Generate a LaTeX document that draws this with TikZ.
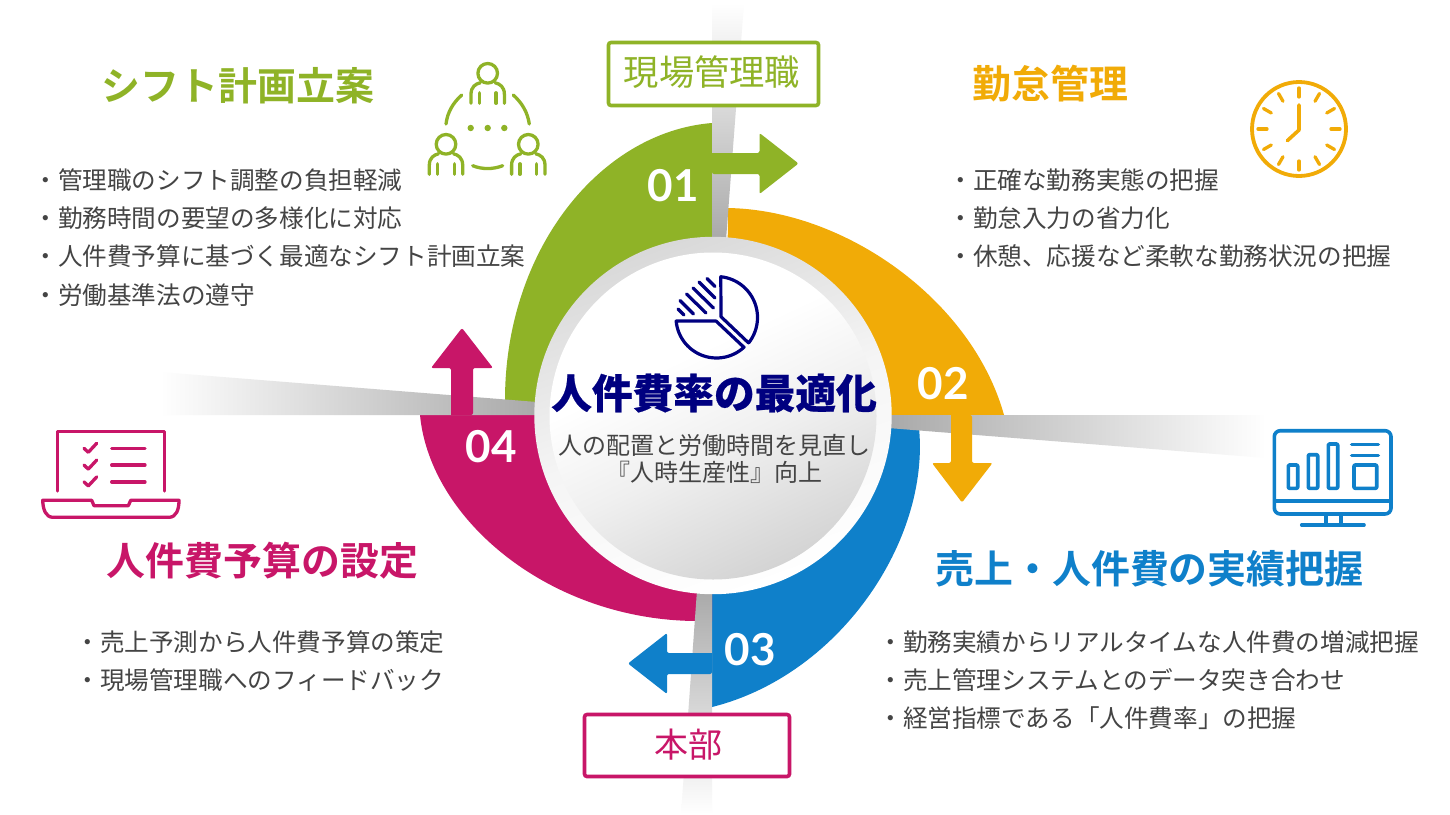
\documentclass[tikz,border=0pt]{standalone}
\usepackage{fontspec}
\setmainfont[BoldFont={Noto Sans CJK JP Bold}]{Noto Sans CJK JP}
\newfontfamily\titlefont[BoldFeatures={FakeBold=0.5}]{Noto Sans CJK JP}
\newfontfamily\numfont{Lato}
\definecolor{cgreen}{HTML}{8FB327}
\definecolor{corange}{HTML}{F1AB07}
\definecolor{cblue}{HTML}{0F80CA}
\definecolor{cmag}{HTML}{C81668}
\definecolor{cnavy}{HTML}{000080}
\definecolor{ctext}{HTML}{444444}
\definecolor{cband}{HTML}{A9A9A9}
\newcommand{\fs}[1]{\fontsize{#1}{#1}\selectfont}
\pgfdeclareverticalshading{discshade}{100bp}{color(0bp)=(black!17); color(25bp)=(black!17); color(45bp)=(black!6); color(60bp)=(white); color(100bp)=(white)}
\pgfdeclareverticalshading{ringshade}{100bp}{color(0bp)=(white); color(25bp)=(white); color(50bp)=(black!4); color(75bp)=(black!15); color(100bp)=(black!15)}
\tikzset{
  txt/.style={inner sep=0pt,font=\fs{#1},text height=0.88*#1 pt,text depth=0.12*#1 pt},
  body/.style={txt=24.6,anchor=west,text=ctext},
  heading/.style={txt=38.9},
  num/.style={inner sep=0pt,text=white,font=\numfont\fs{44}\bfseries},
  tag/.style={draw=#1,fill=white,line width=3.6pt,rounded corners=2.5pt,inner sep=0pt,anchor=center},
  icon/.style={draw=#1,line width=3.3pt,line cap=round,line join=round,fill=none},
  arrowhead/.style={fill=#1,rounded corners=2pt},
}
\newcommand{\personicon}[3]{%
  \begin{scope}[shift={(#1,#2)}]
    \draw[icon=#3] (0,0) circle (9.8);
    \draw[icon=#3] (-16.7,30) -- (-16.7,21) .. controls (-16.7,13.5) and (-12,10.5) .. (-7.5,9.5);
    \draw[icon=#3] (16.7,30) -- (16.7,21) .. controls (16.7,13.5) and (12,10.5) .. (7.5,9.5);
    \draw[icon=#3] (-8.4,19.5) -- (-8.4,30);
    \draw[icon=#3] (8.4,19.5) -- (8.4,30);
  \end{scope}}
\begin{document}
\begin{tikzpicture}[x=1pt,y=-1pt]
\useasboundingbox (0,0) rectangle (1450,814);
\fill[white] (0,0) rectangle (1450,814);
% sectors
\fill[cgreen] (712,123) .. controls (600,132) and (505,250) .. (505,400) -- (505,415) -- (712,415) -- cycle;
\fill[corange] (728,208) .. controls (845,210) and (972,300) .. (1004,415) -- (726,415) -- cycle;
\fill[cblue] (919,428) .. controls (930,540) and (840,675) .. (712,707) -- (712,415) -- (890,415) -- cycle;
\fill[cmag] (420,415) .. controls (430,520) and (550,620) .. (696,621) -- (712,621) -- (712,415) -- cycle;
% bands
\shade[top color=white,bottom color=cband] (712,3) -- (744,3) -- (726,240) -- (712,240) -- cycle;
\shade[top color=cband,bottom color=white] (697,590) -- (712,590) -- (712,814) -- (681,814) -- cycle;
\shade[left color=white,right color=cband] (160,372) -- (537,402) -- (537,415) -- (160,415) -- cycle;
\shade[left color=cband,right color=white] (888,415) -- (1266,415) -- (1266,458) -- (888,428) -- cycle;
% arrows
\fill[arrowhead=cgreen] (712,153) -- (759.5,153) -- (759.5,133) -- (798.5,163.5) -- (759.5,194) -- (759.5,174) -- (712,174) [sharp corners] -- cycle;
\fill[arrowhead=corange] (951,415) -- (951,463) -- (932,463) -- (962,502.5) -- (992.5,463) -- (972,463) -- (972,415) [sharp corners] -- cycle;
\fill[arrowhead=cblue] (712,653) -- (667,653) -- (667,633) -- (628,663.5) -- (667,694) -- (667,674) -- (712,674) [sharp corners] -- cycle;
\fill[arrowhead=cmag] (451,415) -- (451,368) -- (431,368) -- (462,328) -- (493,368) -- (473,368) -- (473,415) [sharp corners] -- cycle;
% centre
\shade[shading=ringshade,shading angle=20] (713,415.5) circle (178.7);
\shade[shading=discshade,shading angle=25] (713,416) circle (163.5);
% pie icon
\draw[icon=cnavy,line width=3.2pt]
  (721,316.7) -- (748.3,342.7)
  -- plot[domain=-38:84,samples=30] ({716.5+41*cos(\x)},{317.5-41*sin(\x)}) -- cycle;
\draw[icon=cnavy,line width=3.2pt]
  (676,321) -- (716,321) -- (743.3,346.7)
  -- plot[domain=-47:-175,samples=30] ({716.5+40.5*cos(\x)},{317.5-40.5*sin(\x)}) -- cycle;
\draw[icon=cnavy,line width=3.2pt] (707,278.5) -- (715,286.5);
\draw[icon=cnavy,line width=3.2pt] (699,282) -- (715,298);
\draw[icon=cnavy,line width=3.2pt] (693,288) -- (713.5,308);
\draw[icon=cnavy,line width=3.2pt] (686.5,294) -- (706,313);
\draw[icon=cnavy,line width=3.2pt] (680,300.5) -- (693.5,314);
\draw[icon=cnavy,line width=3.2pt] (678,309) -- (684,315);
% centre texts
\node[txt=40.7,text=cnavy] (title) at (714,393) {\titlefont\bfseries 人件費率の最適化};
\node[txt=24,text=ctext] (sub1) at (714.5,445) {人の配置と労働時間を見直し};
\node[txt=24,text=ctext] (sub2) at (714,472) {『人時生産性』向上};
% numbers
\node[num] (n1) at (673,186) {01};
\node[num] (n2) at (943,384) {02};
\node[num] (n3) at (750.5,650) {03};
\node[num] (n4) at (491,447) {04};
% tags
\node[tag=cgreen,minimum width=210pt,minimum height=63pt] (tagtop) at (713.5,74) {};
\node[txt=35.3,text=cgreen] (tagtoptext) at (712,72) {現場管理職};
\node[tag=cmag,minimum width=205pt,minimum height=62pt] (tagbot) at (687,745.5) {};
\node[txt=34,text=cmag] (tagbottext) at (688.5,745) {本部};
% headings
\node[heading,text=cgreen] (h1) at (238,86) {\bfseries シフト計画立案};
\node[heading,text=corange] (h2) at (1050.5,84) {\bfseries 勤怠管理};
\node[heading,text=cblue] (h3) at (1149.5,569) {\bfseries 売上・人件費の実績把握};
\node[heading,text=cmag] (h4) at (262.5,561) {\bfseries 人件費予算の設定};
% body
\node[body] (a1) at (33.3,180) {・管理職のシフト調整の負担軽減};
\node[body] (a2) at (33.3,218) {・勤務時間の要望の多様化に対応};
\node[body] (a3) at (33.3,256) {・人件費予算に基づく最適なシフト計画立案};
\node[body] (a4) at (33.3,295) {・労働基準法の遵守};
\node[body] (b1) at (948.3,180) {・正確な勤務実態の把握};
\node[body] (b2) at (948.3,218) {・勤怠入力の省力化};
\node[body] (b3) at (948.3,256) {・休憩、応援など柔軟な勤務状況の把握};
\node[body] (c1) at (878.3,642) {・勤務実績からリアルタイムな人件費の増減把握};
\node[body] (c2) at (878.3,680) {・売上管理システムとのデータ突き合わせ};
\node[body] (c3) at (878.3,718) {・経営指標である「人件費率」の把握};
\node[body] (d1) at (75.3,642) {・売上予測から人件費予算の策定};
\node[body] (d2) at (75.3,680) {・現場管理職へのフィードバック};
% people icon
\personicon{487.7}{73.3}{cgreen}
\personicon{446}{144.3}{cgreen}
\personicon{528.3}{144.3}{cgreen}
\draw[icon=cgreen] (446,124) .. controls (447.5,112) and (453,103) .. (461.7,95);
\draw[icon=cgreen] (529.3,124) .. controls (527.5,112) and (522,103) .. (513.3,95);
\draw[icon=cgreen] (472.7,165.7) .. controls (482,169.5) and (493,169.5) .. (502.7,165.7);
\fill[cgreen] (470.7,128) circle (3.2) (487.7,128) circle (3.2) (504.3,128) circle (3.2);
% clock icon
\draw[icon=corange,line width=3.8pt] (1299,129) circle (47);
\foreach \a in {0,30,...,330}
  \draw[icon=corange] ({1299+32*cos(\a)},{129-32*sin(\a)}) -- ({1299+41*cos(\a)},{129-41*sin(\a)});
\draw[icon=corange,line width=3.6pt] (1299,105) -- (1299,130) -- (1287.3,140.7);
% laptop icon
\draw[icon=cmag] (57.3,491) -- (57.3,431.7) -- (164.3,431.7) -- (164.3,491);
\draw[icon=cmag] (42.7,500.3) -- (91.7,500.3) -- (94,505.7) -- (128.3,505.7) -- (130.7,500.3) -- (179,500.3)
  .. controls (179,510) and (176,517.3) .. (169,517.3) -- (53,517.3) .. controls (46,517.3) and (43,510) .. cycle;
\foreach \d in {0,16.8,33.6}{
  \draw[icon=cmag] (111.7,448.3+\d) -- (145,448.3+\d);
  \draw[icon=cmag] (84,448.3+\d) -- (88.3,452.3+\d) -- (96.7,443.3+\d);
}
% monitor icon
\draw[icon=cblue,line width=3.6pt,rounded corners=6pt] (1274.3,430.7) rectangle (1391,514);
\draw[icon=cblue,line width=3.6pt,line cap=butt] (1274.3,501) -- (1391,501);
\draw[icon=cblue,line width=3.6pt,line cap=butt] (1326,514) -- (1326,525);
\draw[icon=cblue,line width=3.6pt,line cap=butt] (1340.7,514) -- (1340.7,525);
\draw[icon=cblue,line width=3.6pt] (1301.7,525) -- (1364,525);
\draw[icon=cblue,line width=3.6pt,rounded corners=1pt] (1288.3,465) rectangle (1297.7,488.3);
\draw[icon=cblue,line width=3.6pt,rounded corners=1pt] (1308.3,454.7) rectangle (1317.7,488.3);
\draw[icon=cblue,line width=3.6pt,rounded corners=1pt] (1328.3,444) rectangle (1337.7,488.3);
\draw[icon=cblue,line width=3.6pt] (1351.7,444.3) -- (1378.3,444.3);
\draw[icon=cblue,line width=3.6pt] (1351.7,455.3) -- (1378.3,455.3);
\draw[icon=cblue,line width=3.6pt,rounded corners=1pt] (1354,465) rectangle (1376.7,488.3);
\end{tikzpicture}
\end{document}
